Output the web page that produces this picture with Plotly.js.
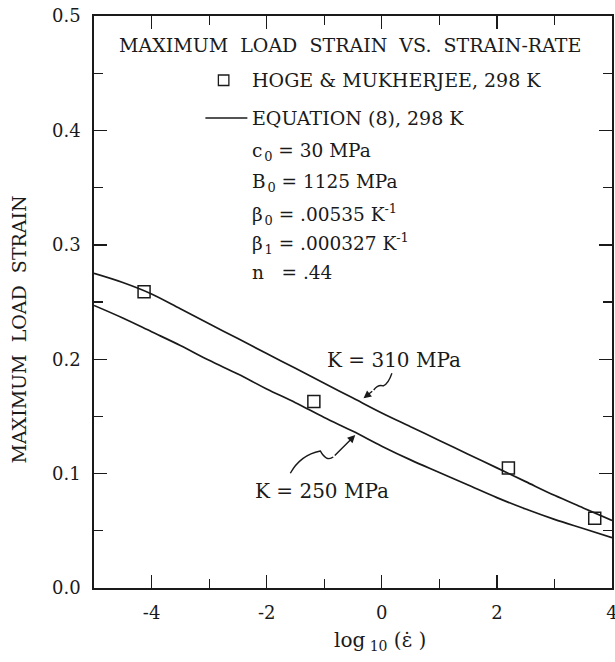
<!DOCTYPE html>
<html>
<head>
<meta charset="utf-8">
<script src="https://cdn.plot.ly/plotly-3.0.1.min.js"></script>
<style>html,body{margin:0;padding:0;background:#fff;}#chart{width:615px;height:662px;}</style>
</head>
<body>
<div id="chart"></div>
<script>
// Data
const dataX = [-4.13, -1.18, 2.20, 3.70];
const dataY = [0.259, 0.163, 0.105, 0.061];

const curveX = [-5, -4.5, -4, -3.5, -3, -2.5, -2, -1.5, -1, -0.5, 0, 0.5, 1, 1.5, 2, 2.5, 3, 3.5, 4];
const k310Y = [0.275, 0.267, 0.257, 0.244, 0.231, 0.218, 0.205, 0.192, 0.179, 0.166, 0.153, 0.141, 0.129, 0.117, 0.105, 0.093, 0.081, 0.070, 0.059];
const k250Y = [0.247, 0.236, 0.224, 0.212, 0.199, 0.187, 0.174, 0.162, 0.149, 0.137, 0.124, 0.112, 0.101, 0.090, 0.079, 0.069, 0.060, 0.052, 0.044];

const xTickVals = [-4, -2, 0, 2, 4];
const yTickVals = [0.0, 0.1, 0.2, 0.3, 0.4, 0.5];
const yTickText = ['0.0', '0.1', '0.2', '0.3', '0.4', '0.5'];

const chartTitle = 'MAXIMUM&nbsp; LOAD&nbsp; STRAIN&nbsp; VS.&nbsp; STRAIN-RATE';
const legendData = 'HOGE &amp; MUKHERJEE, 298 K';
const legendEq = 'EQUATION (8), 298 K';
const params = ['c&#8202;<sub>0</sub> = 30 MPa', 'B&#8202;<sub>0</sub> = 1125 MPa', 'β&#8202;<sub>0</sub> = .00535 K<sup>-1</sup>', 'β&#8202;<sub>1</sub> = .000327 K<sup>-1</sup>', 'n&nbsp;&nbsp;&nbsp;= .44'];
const labelK310 = 'K = 310 MPa';
const labelK250 = 'K = 250 MPa';
const xTitle = 'log<sub> 10</sub> (ε̇ )';
const yTitle = 'MAXIMUM&nbsp; LOAD&nbsp; STRAIN';

// squiggle arrows (data coordinates): tail path points, then arrow tail & tip
const sq310 = {x: [0.176, 0.112, 0.025, -0.062, -0.140], y: [0.1877, 0.1783, 0.1766, 0.1783, 0.1731], tipX: -0.317, tipY: 0.1658};
const sq250 = {x: [-1.589, -1.415, -1.068, -0.964, -0.843], y: [0.1003, 0.1163, 0.1198, 0.1101, 0.1145], tipX: -0.461, tipY: 0.1337};

const FONT = 'DejaVu Serif, Liberation Serif, serif';
const ink = '#1a1a1a';

function quadPath(s) {
  return 'M ' + s.x[0] + ',' + s.y[0] +
    ' Q ' + s.x[1] + ',' + s.y[1] + ' ' + s.x[2] + ',' + s.y[2] +
    ' Q ' + s.x[3] + ',' + s.y[3] + ' ' + s.x[4] + ',' + s.y[4];
}

const traces = [
  {x: curveX, y: k310Y, mode: 'lines', line: {color: ink, width: 1.7, shape: 'spline'}, showlegend: false, hoverinfo: 'skip'},
  {x: curveX, y: k250Y, mode: 'lines', line: {color: ink, width: 1.7, shape: 'spline'}, showlegend: false, hoverinfo: 'skip'},
  {x: dataX, y: dataY, mode: 'markers', marker: {symbol: 'square-open', size: 12, color: ink, line: {width: 1.5, color: ink}}, showlegend: false}
];

const L = 93.5, R = 612, T = 16, B = 588;
function px(xp) { return (xp - L) / (R - L); }
function py(yp) { return (B - yp) / (B - T); }

function txt(x, y, text, size, xanchor) {
  return {xref: 'paper', yref: 'paper', x: px(x), y: py(y), xanchor: xanchor || 'left', yanchor: 'middle', text: text, showarrow: false, font: {family: FONT, size: size, color: ink}};
}

const annotations = [
  txt(350, 45, chartTitle, 19, 'center'),
  txt(250, 80, legendData, 19),
  txt(250, 118, legendEq, 19),
  txt(325, 360, labelK310, 20),
  txt(253, 491, labelK250, 20),
  txt(380, 641, xTitle, 20, 'center'),
  Object.assign(txt(18, 330, yTitle, 19, 'center'), {textangle: -90}),
  {x: sq310.tipX, y: sq310.tipY, ax: sq310.x[4], ay: sq310.y[4], axref: 'x', ayref: 'y', xref: 'x', yref: 'y', text: '', showarrow: true, arrowhead: 2, arrowsize: 1.1, arrowwidth: 1.4, arrowcolor: ink},
  {x: sq250.tipX, y: sq250.tipY, ax: sq250.x[4], ay: sq250.y[4], axref: 'x', ayref: 'y', xref: 'x', yref: 'y', text: '', showarrow: true, arrowhead: 2, arrowsize: 1.1, arrowwidth: 1.4, arrowcolor: ink}
];
const paramYs = [152, 183, 214, 243, 272];
params.forEach((t, i) => annotations.push(txt(250, paramYs[i], t, 18.5)));

const shapes = [
  {type: 'rect', xref: 'paper', yref: 'paper', x0: px(218), x1: px(228.5), y0: py(85.5), y1: py(75), line: {color: ink, width: 1.3}},
  {type: 'line', xref: 'paper', yref: 'paper', x0: px(205), x1: px(247), y0: py(118), y1: py(118), line: {color: ink, width: 1.7}},
  {type: 'path', xref: 'x', yref: 'y', path: quadPath(sq310), line: {color: ink, width: 1.4}},
  {type: 'path', xref: 'x', yref: 'y', path: quadPath(sq250), line: {color: ink, width: 1.4}}
];

const axisCommon = {showgrid: false, zeroline: false, showline: true, linecolor: ink, linewidth: 1.8, mirror: 'ticks', ticks: 'inside', tickcolor: ink, tickwidth: 1.4, ticklen: 13, ticklabeloverflow: 'allow', tickfont: {family: FONT, size: 18, color: ink}};

const layout = {
  width: 615, height: 662,
  margin: {l: L, r: 615 - R, t: T, b: 662 - B},
  paper_bgcolor: '#fff', plot_bgcolor: '#fff',
  showlegend: false,
  xaxis: Object.assign({}, axisCommon, {range: [-5, 4], tickvals: xTickVals, ticktext: xTickVals.map(String), minor: {dtick: 1, tick0: 0, ticks: 'inside', ticklen: 9, tickwidth: 1.2, tickcolor: ink}, ticklabelstandoff: 8}),
  yaxis: Object.assign({}, axisCommon, {range: [0, 0.5], tickvals: yTickVals, ticktext: yTickText, minor: {dtick: 0.05, tick0: 0, ticks: 'inside', ticklen: 9, tickwidth: 1.2, tickcolor: ink}, ticklabelstandoff: 8}),
  annotations: annotations,
  shapes: shapes
};

Plotly.newPlot('chart', traces, layout, {displayModeBar: false, staticPlot: true});
</script>
</body>
</html>
